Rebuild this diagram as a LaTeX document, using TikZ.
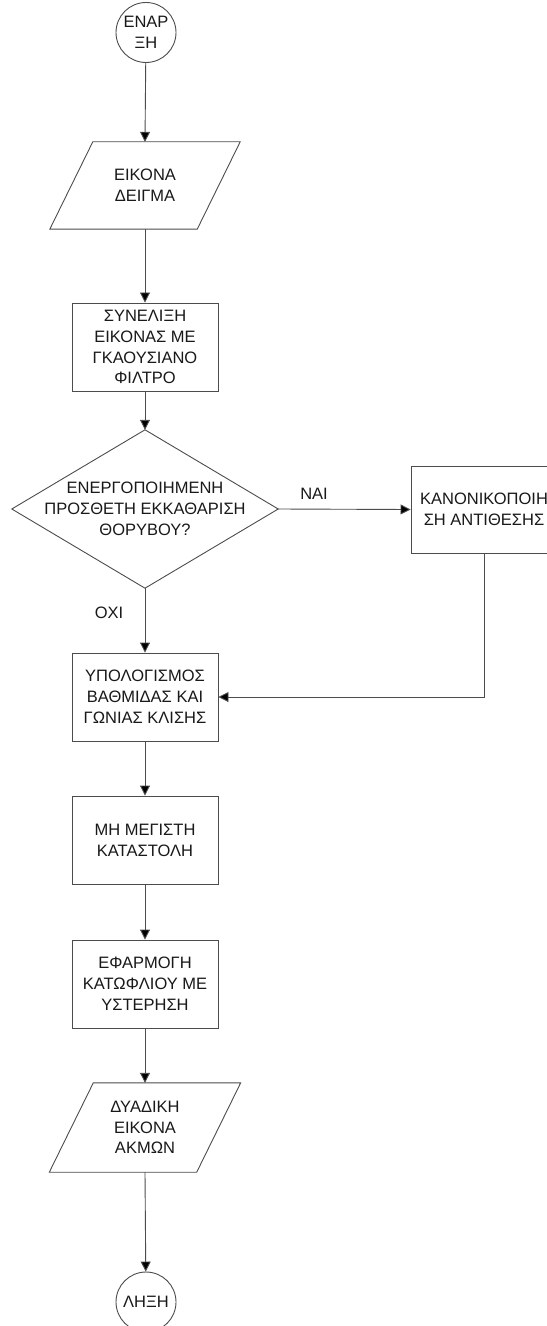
\documentclass[tikz,border=0pt]{standalone}
\usepackage{fontspec}
\setmainfont{Liberation Sans}
\usetikzlibrary{arrows.meta}

\begin{document}
\begin{tikzpicture}[x=1bp,y=-1bp,
  every node/.style={font=\fontsize{16.5bp}{20.8bp}\selectfont, text=black!90, align=center, inner sep=0pt},
  line/.style={draw=black!70, line width=0.9bp},
  arr/.style={line, -{Triangle[length=10bp,width=10bp,fill=black]}},
  procbox/.style={line, fill=white, rectangle, minimum width=146bp, minimum height=88bp},
  term/.style={line, fill=white, circle, minimum size=60bp},
  iobox/.style={rectangle, minimum width=147bp, minimum height=#1},
  label/.style={}
]
\useasboundingbox (0,0) rectangle (547,1326);

% terminals
\node[term] (start) at (146,32.5) {ΕΝΑΡ\\ΞΗ};
\node[term] (stop) at (146,1302) {ΛΗΞΗ};

% input / output (parallelograms drawn round plain nodes)
\node[iobox=87bp] (in) at (145,185.5) {ΕΙΚΟΝΑ\\ΔΕΙΓΜΑ};
\draw[line] ([xshift=21.5bp]in.north west) -- ([xshift=21.5bp]in.north east)
  -- ([xshift=-21.5bp]in.south east) -- ([xshift=-21.5bp]in.south west) -- cycle;

\node[iobox=89bp] (out) at (145,1127.5) {ΔΥΑΔΙΚΗ\\ΕΙΚΟΝΑ\\ΑΚΜΩΝ};
\draw[line] ([xshift=22bp]out.north west) -- ([xshift=22bp]out.north east)
  -- ([xshift=-22bp]out.south east) -- ([xshift=-22bp]out.south west) -- cycle;

% process steps
\node[procbox] (conv) at (145,347) {ΣΥΝΕΛΙΞΗ\\ΕΙΚΟΝΑΣ ΜΕ\\ΓΚΑΟΥΣΙΑΝΟ\\ΦΙΛΤΡΟ};
\node[procbox, minimum height=87bp] (norm) at (484,509.5) {ΚΑΝΟΝΙΚΟΠΟΙΗ\\ΣΗ ΑΝΤΙΘΕΣΗΣ};
\node[procbox] (grad) at (145,697) {ΥΠΟΛΟΓΙΣΜΟΣ\\ΒΑΘΜΙΔΑΣ ΚΑΙ\\ΓΩΝΙΑΣ ΚΛΙΣΗΣ};
\node[procbox] (nms) at (145,840) {ΜΗ ΜΕΓΙΣΤΗ\\ΚΑΤΑΣΤΟΛΗ};
\node[procbox] (hyst) at (145,984) {ΕΦΑΡΜΟΓΗ\\ΚΑΤΩΦΛΙΟΥ ΜΕ\\ΥΣΤΕΡΗΣΗ};

% decision
\node[rectangle, minimum width=266bp, minimum height=158bp] (dec) at (145,509)
  {ΕΝΕΡΓΟΠΟΙΗΜΕΝΗ\\ΠΡΟΣΘΕΤΗ ΕΚΚΑΘΑΡΙΣΗ\\ΘΟΡΥΒΟΥ?};
\draw[line] (dec.north) -- (dec.east) -- (dec.south) -- (dec.west) -- cycle;

% connectors
\draw[arr] (start) -- (in.north);
\draw[arr] (in.south) -- (conv.north);
\draw[arr] (conv.south) -- (dec.north);
\draw[arr] (dec.east) -- (norm.west);
\draw[arr] (dec.south) -- (grad.north);
\draw[arr] (norm.south) |- (grad.east);
\draw[arr] (grad.south) -- (nms.north);
\draw[arr] (nms.south) -- (hyst.north);
\draw[arr] (hyst.south) -- (out.north);
\draw[arr] (out.south) -- (stop);

% branch labels
\node[label] (yes) at (314,494) {ΝΑΙ};
\node[label] (no) at (109,613) {ΟΧΙ};
\end{tikzpicture}
\end{document}
